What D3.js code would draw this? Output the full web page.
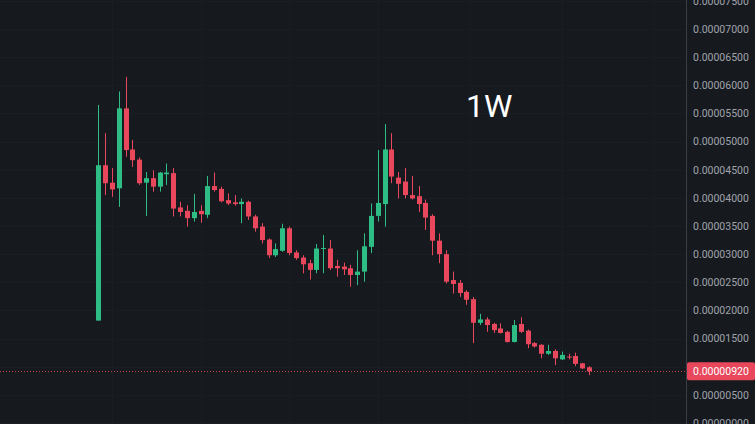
<!DOCTYPE html>
<html>
<head>
<meta charset="utf-8">
<script src="https://cdn.jsdelivr.net/npm/d3@7"></script>
<style>
  html, body { margin: 0; padding: 0; background: #161a1f; overflow: hidden; }
  svg { display: block; }
</style>
</head>
<body>
<svg id="chart" width="755" height="424"></svg>
<script>
// ---- Data (prices in units of 1e-6) ----
const UNIT = 1e-6;
const categories = d3.range(73); // weekly candles, index
const opens  = [18.2,45.8,42.7,41.7,55.9,48.6,46.8,42.7,43.5,42.0,44.2,44.4,38.3,37.7,36.4,37.7,37.0,42.1,41.6,39.6,
                39.2,38.9,39.3,36.7,34.9,32.6,29.8,30.6,34.6,30.3,29.4,28.4,27.2,31.0,31.0,27.9,27.8,27.5,26.3,26.9,
                31.3,36.8,38.9,48.6,43.6,42.9,40.5,40.3,39.1,36.8,32.4,30.0,25.4,24.9,23.3,22.0,17.8,18.4,17.6,16.8,
                16.2,14.4,17.6,16.4,14.2,13.9,12.3,12.8,11.3,11.8,11.9,10.6,9.9];
const highs  = [56.5,51.5,45.3,58.9,61.5,50.3,47.2,44.6,44.9,44.6,46.1,45.3,39.3,38.7,40.7,38.7,43.9,44.5,42.0,40.8,
                40.5,39.9,39.5,37.0,35.5,32.8,31.9,35.4,34.9,30.7,29.8,29.0,31.8,33.4,32.5,29.0,28.5,28.1,30.7,33.7,
                39.0,48.5,53.1,51.5,44.6,45.3,43.9,42.1,39.7,37.1,33.7,30.7,26.9,25.4,23.6,22.4,19.4,18.8,17.8,17.7,
                16.4,18.3,18.8,16.6,14.4,14.0,13.9,13.1,12.7,12.3,12.5,10.7,10.1];
const lows   = [18.2,40.5,40.2,38.4,47.3,45.5,42.3,36.8,41.1,41.1,42.3,36.7,36.7,34.9,35.8,35.6,36.4,41.1,39.2,38.7,
                38.6,35.5,36.1,34.0,31.9,29.3,29.5,30.4,29.8,29.0,26.6,25.5,26.6,26.6,27.2,26.0,26.3,24.2,24.5,25.1,
                30.2,35.8,34.9,42.6,39.9,39.9,39.7,37.5,34.3,29.8,28.4,24.8,23.0,22.4,21.0,14.2,17.4,16.2,16.0,15.9,
                14.3,14.3,16.0,13.3,13.4,11.5,12.1,10.3,11.2,11.3,10.1,9.6,8.5];
const closes = [45.8,42.6,41.5,55.9,48.5,46.7,42.6,43.5,42.0,44.5,44.5,38.1,37.5,36.4,37.5,37.1,42.1,41.4,39.4,39.0,
                38.9,39.3,36.7,34.6,32.5,29.8,30.9,34.6,30.2,29.3,28.2,27.2,31.0,31.1,27.5,27.5,27.3,26.3,26.9,31.4,
                36.8,39.1,48.6,43.8,42.5,40.5,39.9,38.9,36.5,32.4,30.0,25.1,24.7,23.1,21.9,17.8,18.4,17.4,16.5,16.0,
                14.4,17.4,16.2,14.0,13.6,12.3,12.8,11.5,12.1,11.7,10.5,9.7,9.2];
const tickValues = d3.range(0, 16).map(k => k * 5 * UNIT); // 0 .. 0.000075
const currentPrice = 9.2 * UNIT;
const gridIdx = [2, 15, 28, 41, 54.5, 68, 81.5];
const intervalLabel = "1W";

// ---- Colors ----
const BG = "#161a1f", UP = "#2ebd85", DOWN = "#e8475c";

const svg = d3.select("#chart");
const W = 755, H = 424, axisX = 686;

svg.append("rect").attr("width", W).attr("height", H).attr("fill", BG);

const y = d3.scaleLinear().domain([0, 75 * UNIT]).range([423, 0.9]);
const x = d3.scaleLinear().domain([0, 72]).range([98.3, 589]);

// faint grid
const grid = svg.append("g");
grid.selectAll("line.h").data(tickValues).join("line")
  .attr("x1", 0).attr("x2", axisX).attr("y1", d => Math.round(y(d)) + 0.5).attr("y2", d => Math.round(y(d)) + 0.5)
  .attr("stroke", "#1a1e24").attr("stroke-width", 1);
grid.selectAll("line.v").data(gridIdx).join("line")
  .attr("y1", 0).attr("y2", H).attr("x1", d => Math.round(x(d)) + 0.5).attr("x2", d => Math.round(x(d)) + 0.5)
  .attr("stroke", "#1a1e24").attr("stroke-width", 1);

// candles
const data = categories.map(i => ({ i, o: opens[i] * UNIT, h: highs[i] * UNIT, l: lows[i] * UNIT, c: closes[i] * UNIT }));
const bodyW = 5;
const cg = svg.append("g");
const candle = cg.selectAll("g").data(data).join("g");
candle.append("line")
  .attr("x1", d => Math.round(x(d.i)) + 0.5).attr("x2", d => Math.round(x(d.i)) + 0.5)
  .attr("y1", d => y(d.h)).attr("y2", d => y(d.l))
  .attr("stroke", d => d.c >= d.o ? UP : DOWN).attr("stroke-width", 1);
candle.append("rect")
  .attr("x", d => Math.round(x(d.i)) + 0.5 - bodyW / 2)
  .attr("width", bodyW)
  .attr("y", d => y(Math.max(d.o, d.c)))
  .attr("height", d => Math.max(1, Math.abs(y(d.o) - y(d.c))))
  .attr("fill", d => d.c >= d.o ? UP : DOWN);

// interval label
svg.append("text").attr("x", 466).attr("y", 116.5)
  .attr("font-family", "Roboto, 'Liberation Sans', sans-serif").attr("font-size", 32)
  .attr("fill", "#ffffff").text(intervalLabel);

// price line
svg.append("line").attr("x1", 0).attr("x2", axisX)
  .attr("y1", Math.round(y(currentPrice)) + 0.5).attr("y2", Math.round(y(currentPrice)) + 0.5)
  .attr("stroke", DOWN).attr("stroke-opacity", 0.85).attr("stroke-dasharray", "1,2");

// right axis
const axis = d3.axisRight(y).tickValues(tickValues).tickFormat(d => d.toFixed(8)).tickSize(0).tickPadding(7);
const ag = svg.append("g").attr("transform", `translate(${axisX},0)`).call(axis);
ag.select(".domain").attr("stroke", "#3a3e46").attr("d", `M0.5,0V${H}`);
ag.selectAll("text").attr("fill", "#a0a3ab")
  .attr("font-family", "Roboto, 'Liberation Sans', sans-serif").attr("font-size", 10.5);

// price label
const py = y(currentPrice);
svg.append("rect").attr("x", axisX + 1).attr("y", py - 9).attr("width", W - axisX - 1).attr("height", 18)
  .attr("rx", 2).attr("fill", DOWN);
svg.append("text").attr("x", axisX + 7).attr("y", py).attr("dy", "0.36em")
  .attr("font-family", "Roboto, 'Liberation Sans', sans-serif").attr("font-size", 10.5)
  .attr("fill", "#ffffff").text(currentPrice.toFixed(8));
</script>
</body>
</html>
